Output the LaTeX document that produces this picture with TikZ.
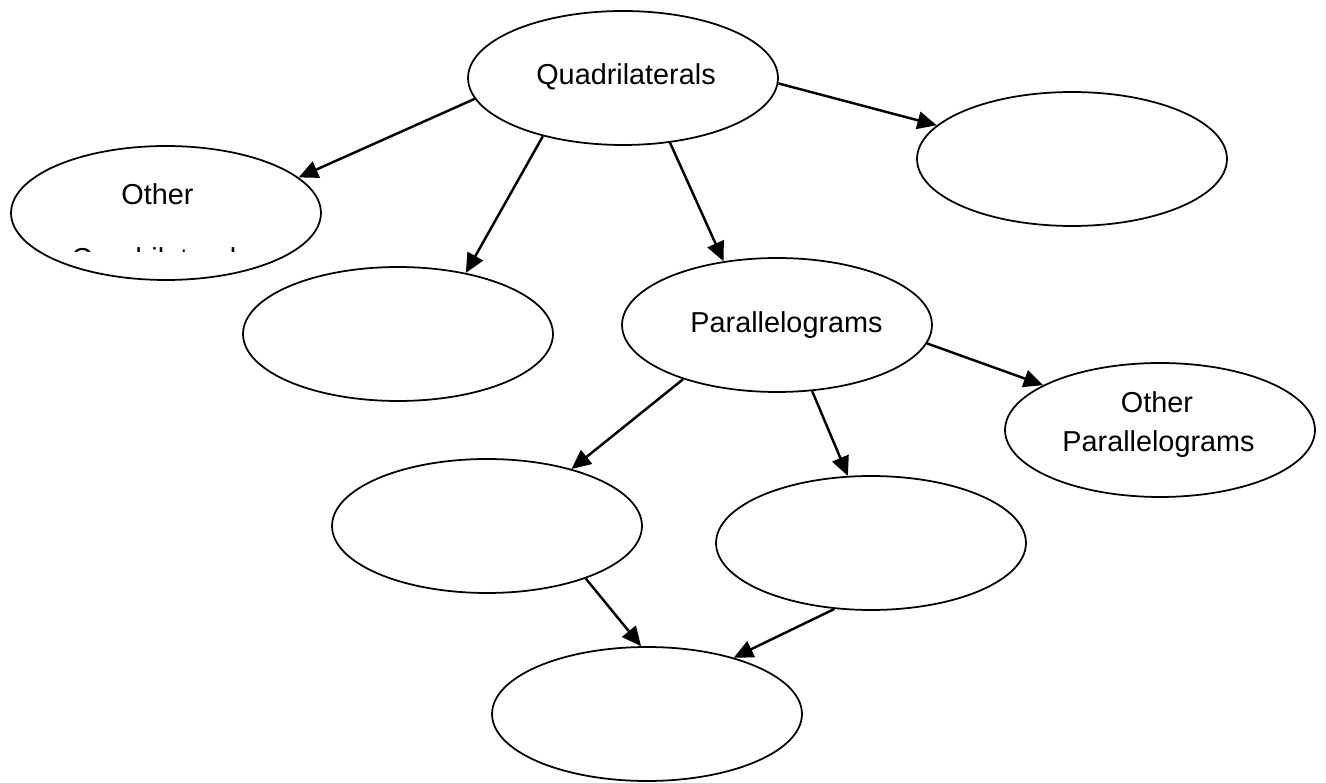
\documentclass[tikz,border=0pt]{standalone}
\usepackage{fontspec}
\setmainfont{Liberation Sans}
\usetikzlibrary{arrows.meta,shapes.geometric}
\tikzset{
  oval/.style={draw=black, line width=1pt, ellipse, minimum width=6.2cm, minimum height=2.68cm, inner sep=0pt},
  lbl/.style={font=\fontsize{16.4}{22}\selectfont, inner sep=0pt, anchor=base},
  conn/.style={line width=1.4pt, -{Triangle[length=11pt,width=10pt]}}
}
\begin{document}
\begin{tikzpicture}[x=0.02cm,y=-0.02cm]
\useasboundingbox (0,0) rectangle (1326,783);
% ellipses
\node[oval] (quad) at (623,78) {};
\node[oval] (right) at (1072,159) {};
\node[oval] (oq) at (166,213) {};
\node[oval] (lm) at (398,334) {};
\node[oval] (par) at (777,325) {};
\node[oval] (op) at (1160,430) {};
\node[oval] (ll) at (487,526) {};
\node[oval] (lmid) at (871,543) {};
\node[oval] (bot) at (647,714) {};
% texts
\node[lbl] (tquad) at (626,85) {Quadrilaterals};
\node[lbl] (toq1) at (157.5,205) {Other};
\begin{scope}
\clip (0,0) rectangle (330,252);
\node[lbl] (toq2) at (161,269) {Quadrilaterals};
\end{scope}
\node[lbl] (tpar) at (786.5,333) {Parallelograms};
\node[lbl] (top1) at (1157,413) {Other};
\node[lbl] (top2) at (1158.5,452) {Parallelograms};
% connectors
\draw[conn] (quad.188.6) -- (oq.15.5);
\draw[conn] (quad.216) -- (lm.42);
\draw[conn] (quad.306.9) -- (par.130);
\draw[conn] (quad.-2.2) -- (right.166.7);
\draw[conn] (par.210.5) -- (ll.34.9);
\draw[conn] (par.298.3) -- (lmid.109.4);
\draw[conn] (par.-7.8) -- (op.159.1);
\draw[conn] (ll.-28.4) -- (bot.95.5);
\draw[conn] (lmid.241.2) -- (bot.33);
\end{tikzpicture}
\end{document}
